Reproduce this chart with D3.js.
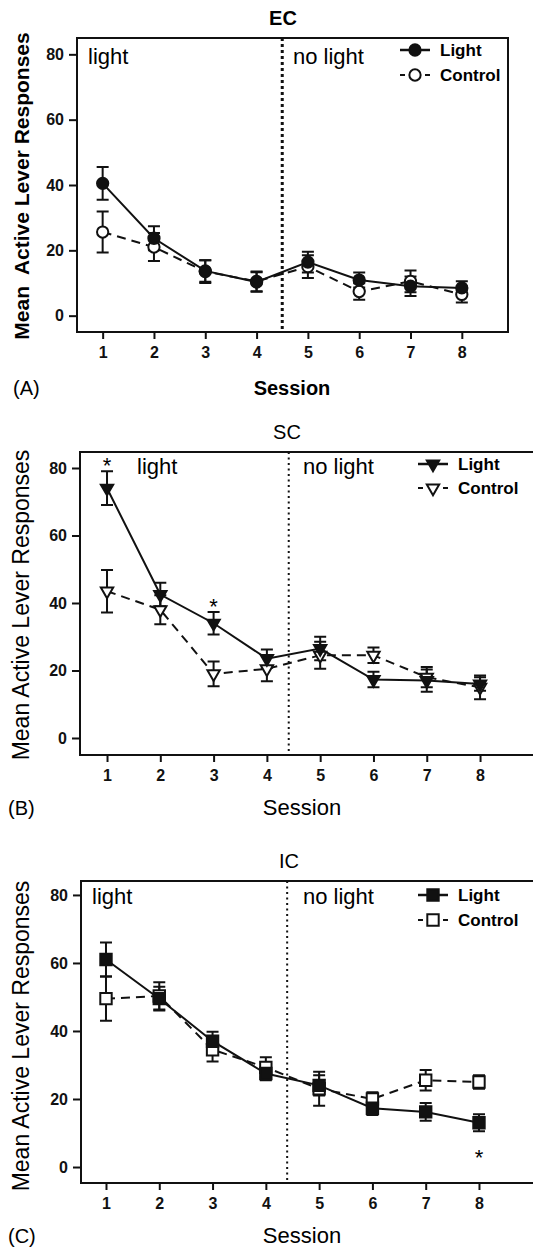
<!DOCTYPE html>
<html lang="en">
<head>
  <meta charset="UTF-8">
  <title>Mean Active Lever Responses by Session</title>
  <style>
    body { margin: 0; padding: 0; background: #fff; }
    svg { display: block; font-family: "Liberation Sans", Arial, sans-serif; }
  </style>
</head>
<body>
  <svg id="chart" width="533" height="1254"></svg>

  <script src="https://d3js.org/d3.v7.min.js"></script>
  <script>
    // values
    const sessions = [1, 2, 3, 4, 5, 6, 7, 8];
    const yTicks = [0, 20, 40, 60, 80];

    const ecLight = [40.5, 23.7, 13.7, 10.3, 16.4, 10.9, 9.0, 8.5];
    const ecLightErr = [5.0, 3.7, 3.3, 3.0, 3.2, 2.3, 3.0, 2.0];
    const ecControl = [25.6, 21.0, 13.5, 10.5, 15.0, 7.4, 10.5, 6.5];
    const ecControlErr = [6.3, 4.3, 3.5, 3.0, 3.5, 2.5, 3.3, 2.5];

    const scLight = [74.0, 42.5, 34.0, 23.5, 26.5, 17.3, 17.0, 16.0];
    const scLightErr = [5.0, 3.5, 3.3, 2.7, 3.5, 2.3, 3.3, 2.0];
    const scControl = [43.5, 38.0, 19.0, 20.5, 24.5, 24.5, 18.0, 15.0];
    const scControlErr = [6.3, 4.3, 3.7, 3.7, 4.0, 2.3, 3.0, 3.5];

    const icLight = [61.0, 49.5, 37.0, 27.5, 24.0, 17.3, 16.2, 13.0];
    const icLightErr = [5.0, 3.5, 2.8, 2.0, 3.0, 2.0, 2.6, 2.5];
    const icControl = [49.5, 50.3, 34.5, 29.3, 23.0, 20.0, 25.5, 25.0];
    const icControlErr = [6.5, 4.0, 3.5, 3.0, 5.0, 2.0, 3.0, 2.0];

    const scSig = [1, 3];   // asterisks above the Light bars
    const icSig = [8];      // asterisk below the Light bar

    const panels = [
      {
        title: 'EC', letter: '(A)', bold: true, symbol: d3.symbolCircle, size: 100, rotate: 0,
        light: ecLight, lightErr: ecLightErr, control: ecControl, controlErr: ecControlErr,
        sig: [], sigBelow: false, split: 4.5,
        box: { left: 77, top: 38, right: 508, bottom: 332 }, xDomain: [0.5, 8.9], yDomain: [-5, 85],
        frame: true, dotW: 3, dotDash: '3,3',
        titleX: 283, lightX: 88, noLightX: 293, phaseDy: 26, legX: 400, legDy: [12, 37],
        ylabY: 186, sessionX: 292, letterX: 13, letterDy: 56
      },
      {
        title: 'SC', letter: '(B)', bold: false, symbol: d3.symbolTriangle, size: 66, rotate: 180,
        light: scLight, lightErr: scLightErr, control: scControl, controlErr: scControlErr,
        sig: scSig, sigBelow: false, split: 4.41,
        box: { left: 80, top: 452, right: 536, bottom: 755 }, xDomain: [0.493, 9.05], yDomain: [-5.04, 84.74],
        frame: false, dotW: 2, dotDash: '2,3.5',
        titleX: 287, lightX: 137, noLightX: 303, phaseDy: 22, legX: 418, legDy: [12, 36],
        ylabY: 605, sessionX: 302, letterX: 8, letterDy: 53
      },
      {
        title: 'IC', letter: '(C)', bold: false, symbol: d3.symbolSquare, size: 130, rotate: 0,
        light: icLight, lightErr: icLightErr, control: icControl, controlErr: icControlErr,
        sig: icSig, sigBelow: true, split: 4.4,
        box: { left: 81, top: 881, right: 536, bottom: 1183 }, xDomain: [0.531, 9.07], yDomain: [-4.7, 84.1],
        frame: false, dotW: 2, dotDash: '2,3.5',
        titleX: 289, lightX: 92, noLightX: 303, phaseDy: 23, legX: 418, legDy: [14, 39],
        ylabY: 1036, sessionX: 302, letterX: 8, letterDy: 53
      }
    ];

    const svg = d3.select('#chart');

    panels.forEach(function (p) {
      const b = p.box;
      const x = d3.scaleLinear().domain(p.xDomain).range([b.left, b.right]);
      const y = d3.scaleLinear().domain(p.yDomain).range([b.bottom, b.top]);
      const g = svg.append('g');

      // plot frame
      if (p.frame) {
        g.append('rect')
          .attr('x', b.left).attr('y', b.top)
          .attr('width', b.right - b.left).attr('height', b.bottom - b.top)
          .attr('fill', 'none').attr('stroke', '#111').attr('stroke-width', 2);
      } else {
        g.append('path')
          .attr('d', `M${b.right},${b.top}H${b.left}V${b.bottom}H${b.right}`)
          .attr('fill', 'none').attr('stroke', '#111').attr('stroke-width', 2);
      }

      // axes
      const xAxis = d3.axisBottom(x).tickValues(sessions).tickSize(7).tickPadding(8).tickFormat(d3.format('d'));
      const yAxis = d3.axisLeft(y).tickValues(yTicks).tickSize(8).tickPadding(5);

      const gx = g.append('g').attr('transform', `translate(0,${b.bottom})`).call(xAxis);
      const gy = g.append('g').attr('transform', `translate(${b.left},0)`).call(yAxis);
      [gx, gy].forEach(function (ax) {
        ax.attr('font-family', '"Liberation Sans", Arial, sans-serif').attr('font-size', 16);
        ax.select('.domain').remove();
        ax.selectAll('line').attr('stroke', '#111').attr('stroke-width', 2);
        ax.selectAll('text').attr('fill', '#111').attr('font-weight', 'bold');
      });

      // light / no light divider
      g.append('line')
        .attr('x1', x(p.split)).attr('x2', x(p.split))
        .attr('y1', b.top).attr('y2', b.bottom)
        .attr('stroke', '#111').attr('stroke-width', p.dotW)
        .attr('stroke-dasharray', p.dotDash);

      // texts
      g.append('text').attr('x', p.titleX).attr('y', b.top - 13)
        .attr('text-anchor', 'middle').attr('font-size', 20)
        .attr('font-weight', p.bold ? 'bold' : 'normal').text(p.title);

      g.append('text').attr('x', p.lightX).attr('y', b.top + p.phaseDy)
        .attr('font-size', 22).text('light');
      g.append('text').attr('x', p.noLightX).attr('y', b.top + p.phaseDy)
        .attr('font-size', 22).text('no light');

      g.append('text')
        .attr('transform', `translate(21,${p.ylabY}) rotate(-90)`)
        .attr('text-anchor', 'middle').attr('dy', '0.36em')
        .attr('font-size', p.bold ? 21 : 23)
        .attr('font-weight', p.bold ? 'bold' : 'normal')
        .text(p.bold ? 'Mean\u00a0 Active Lever Responses' : 'Mean Active Lever Responses');

      g.append('text').attr('x', p.sessionX).attr('y', b.bottom + p.letterDy + 7)
        .attr('text-anchor', 'middle').attr('font-size', p.bold ? 20 : 22)
        .attr('font-weight', p.bold ? 'bold' : 'normal').text('Session');

      g.append('text').attr('x', p.letterX).attr('y', b.bottom + p.letterDy + 7)
        .attr('font-size', 20).text(p.letter);

      // series
      const series = [
        { name: 'Control', vals: p.control, errs: p.controlErr, fill: '#fff', dash: '9,6' },
        { name: 'Light', vals: p.light, errs: p.lightErr, fill: '#111', dash: null }
      ];

      const line = d3.line().x((d, i) => x(sessions[i])).y(d => y(d));
      const sym = d3.symbol().type(p.symbol).size(p.size);

      series.forEach(function (s) {
        g.append('path').datum(s.vals)
          .attr('d', line).attr('fill', 'none')
          .attr('stroke', '#111').attr('stroke-width', 2)
          .attr('stroke-dasharray', s.dash);
      });

      series.forEach(function (s) {
        const eb = g.append('g');
        s.vals.forEach(function (v, i) {
          const cx = x(sessions[i]);
          const y0 = y(v - s.errs[i]), y1 = y(v + s.errs[i]);
          eb.append('path')
            .attr('d', `M${cx},${y0}V${y1}M${cx - 6},${y0}H${cx + 6}M${cx - 6},${y1}H${cx + 6}`)
            .attr('fill', 'none').attr('stroke', '#111').attr('stroke-width', 2);
        });
      });

      series.forEach(function (s) {
        g.selectAll(null).data(s.vals).enter().append('path')
          .attr('d', sym)
          .attr('transform', (d, i) => `translate(${x(sessions[i])},${y(d)}) rotate(${p.rotate})`)
          .attr('fill', s.fill).attr('stroke', '#111').attr('stroke-width', 2);
      });

      // significance asterisks
      p.sig.forEach(function (sess) {
        const i = sessions.indexOf(sess);
        const v = p.light[i];
        const e = p.lightErr[i];
        const cy = p.sigBelow ? y(v - e) + 22 : y(v + e) - 10;
        g.append('text').attr('x', x(sess)).attr('y', cy + 12)
          .attr('text-anchor', 'middle').attr('font-size', 22).text('*');
      });

      // legend
      const legend = g.append('g');
      series.slice().reverse().forEach(function (s, k) {
        const ly = b.top + p.legDy[k];
        const lx0 = p.legX, lx1 = p.legX + 30, mid = p.legX + 15;
        if (s.dash) {
          legend.append('path').attr('d', `M${lx0},${ly}H${lx0 + 5}M${lx1 - 5},${ly}H${lx1}`)
            .attr('stroke', '#111').attr('stroke-width', 2);
        } else {
          legend.append('line').attr('x1', lx0).attr('x2', lx1).attr('y1', ly).attr('y2', ly)
            .attr('stroke', '#111').attr('stroke-width', 2.5);
        }
        legend.append('path').attr('d', sym)
          .attr('transform', `translate(${mid},${ly}) rotate(${p.rotate})`)
          .attr('fill', s.fill).attr('stroke', '#111').attr('stroke-width', 2);
        legend.append('text').attr('x', lx1 + 10).attr('y', ly).attr('dy', '0.36em')
          .attr('font-size', 17).attr('font-weight', 'bold').text(s.name);
      });
    });
  </script>
</body>
</html>
